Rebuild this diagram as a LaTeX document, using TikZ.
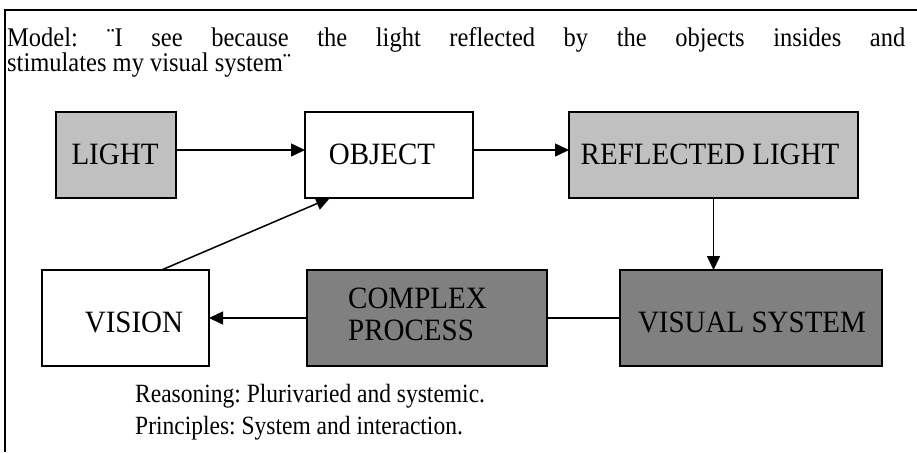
\documentclass[tikz,border=0pt]{standalone}
\usepackage{fontspec}
\setmainfont{Liberation Serif}
\usetikzlibrary{arrows.meta}
\definecolor{lgray}{RGB}{192,192,192}
\definecolor{dgray}{RGB}{128,128,128}
\newcommand{\tallbox}[2]{\scalebox{1}[#1]{#2}}
\begin{document}
\frenchspacing
\begin{tikzpicture}[x=1pt,y=-1pt,
  box/.style={draw, line width=1.5pt, anchor=north west, inner sep=0pt, outer sep=0pt},
  lightbox/.style={box, fill=lgray},
  darkbox/.style={box, fill=dgray},
  whitebox/.style={box, fill=white},
  lbl/.style={font=\fontsize{29}{33}\selectfont, inner sep=0pt, anchor=base},
  lbll/.style={font=\fontsize{29}{33}\selectfont, inner sep=0pt, anchor=base west},
  txt/.style={inner sep=0pt, anchor=base west},
  txts/.style={font=\fontsize{23.5}{30}\selectfont, inner sep=0pt, anchor=base west},
  conn/.style={line width=1.5pt, -{Triangle[length=14pt,width=13pt]}},
  link/.style={line width=2pt}]
\useasboundingbox (0,0) rectangle (917,452);
\coordinate (fb) at (5,452);
\coordinate (fc) at (5,10);
\coordinate (fr) at (917,10);
\draw[line width=1.5pt] (fb) -- (fc) -- (fr);

\node[txt] (para) at (7,46) {\tallbox{1.1}{\parbox[t]{898pt}{\fontsize{24.5}{21.5}\selectfont\parindent=0pt
  Model: ¨I see because the light reflected by the objects insides and\linebreak
  stimulates my visual system¨}}};

\node[lightbox, minimum width=120pt, minimum height=86pt] (light) at (56,112) {};
\node[whitebox, minimum width=168pt, minimum height=86pt] (object) at (305,112) {};
\node[lightbox, minimum width=289pt, minimum height=86pt] (refl) at (569,112) {};
\node[whitebox, minimum width=167pt, minimum height=96pt] (vision) at (42,270) {};
\node[darkbox, minimum width=240pt, minimum height=96pt] (complex) at (307,270) {};
\node[darkbox, minimum width=262pt, minimum height=96pt] (visual) at (620,270) {};

\node[lbl] (tlight) at (115,164) {\tallbox{1.07}{LIGHT}};
\node[lbl] (tobject) at (382,164) {\tallbox{1.07}{OBJECT}};
\node[lbl] (trefl) at (710,164) {\tallbox{1.07}{REFLECTED LIGHT}};
\node[lbl] (tvision) at (134,332) {\tallbox{1.07}{VISION}};
\node[lbll, align=left] (tcomplex) at (348,308) {\tallbox{1.07}{\parbox[t]{150pt}{\fontsize{29}{30.8}\selectfont COMPLEX\\PROCESS}}};
\node[lbl] (tvisual) at (752,332) {\tallbox{1.07}{VISUAL SYSTEM}};

\draw[conn] ([yshift=5pt]light.east) -- ([yshift=5pt]object.west);
\draw[conn] ([yshift=5pt]object.east) -- ([yshift=5pt]refl.west);
\draw[conn] (refl.south) -- (refl.south |- visual.north);
\draw[conn] (complex.west) -- (vision.east);
\draw[link] (complex.east) -- (visual.west);
\draw[conn] ([xshift=36pt]vision.north) -- ([xshift=-59pt]object.south);

\node[txts] (reason) at (135,402) {\tallbox{1.12}{Reasoning: Plurivaried and systemic.}};
\node[txts] (princ) at (135,434) {\tallbox{1.12}{Principles: System and interaction.}};
\end{tikzpicture}
\end{document}
